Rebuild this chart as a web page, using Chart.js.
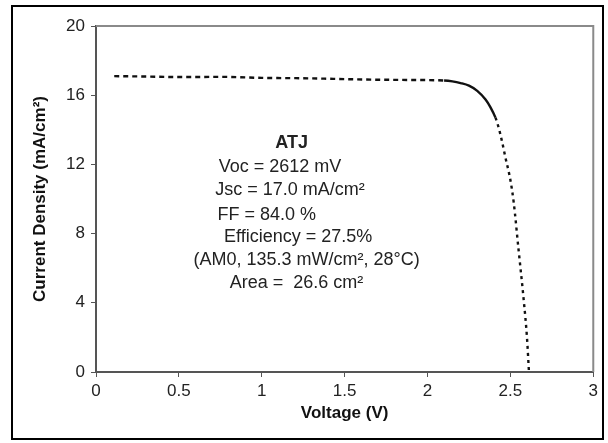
<!DOCTYPE html>
<html>
<head>
<meta charset="utf-8">
<script src="https://cdn.jsdelivr.net/npm/chart.js@4/dist/chart.umd.min.js"></script>
<style>
  html, body { margin: 0; padding: 0; background: #fff; }
  #frame {
    position: absolute; left: 11px; top: 5px;
    width: 589px; height: 431px;
    border: 2px solid #000;
  }
</style>
</head>
<body>
<div id="frame"><canvas id="ivCurve" width="589" height="431"></canvas></div>
<script>
// I-V curve
var voltage = [0.11, 0.3, 0.5, 0.77, 1.0, 1.25, 1.5, 1.66, 1.9, 2.1, 2.15, 2.2, 2.25, 2.3,
               2.35, 2.38, 2.41, 2.43, 2.45, 2.47, 2.5, 2.52, 2.55, 2.58, 2.6, 2.612];
var current = [17.1, 17.08, 17.05, 17.06, 17.0, 16.98, 16.93, 16.9, 16.88, 16.85, 16.8, 16.7, 16.55, 16.25,
               15.75, 15.3, 14.7, 14.1, 13.3, 12.4, 11.1, 9.8, 7.0, 4.2, 2.0, 0];

var xTicks = [0, 0.5, 1, 1.5, 2, 2.5, 3];
var yTicks = [0, 4, 8, 12, 16, 20];

var noteLines = [
    "ATJ",
    "Voc = 2612 mV",
    "Jsc = 17.0 mA/cm²",
    "FF = 84.0 %",
    "Efficiency = 27.5%",
    "(AM0, 135.3 mW/cm², 28°C)",
    "Area =  26.6 cm²"
];

var points = voltage.map(function(v, i){ return {x: v, y: current[i]}; });

var fontName = "'Liberation Sans', Arial, sans-serif";

/**
 * gray frame on top and right, and the text block
 */
var extras = {
    id: 'extras',
    afterDraw: function(chart){
        var c = chart.ctx, a = chart.chartArea;
        var xs = chart.scales.x, ys = chart.scales.y;
        c.save();
        c.strokeStyle = '#8a8a8a';
        c.lineWidth = 2;
        c.beginPath();
        c.moveTo(a.left, a.top);
        c.lineTo(a.right, a.top);
        c.lineTo(a.right, a.bottom);
        c.stroke();

        // anchors in data units (x centre, y centre)
        var anchors = [[1.18, 13.24], [1.11, 11.85], [1.17, 10.52], [1.03, 9.08],
                       [1.22, 7.80], [1.27, 6.47], [1.21, 5.14]];
        c.fillStyle = '#222';
        c.textAlign = 'center';
        c.textBaseline = 'middle';
        noteLines.forEach(function(t, i){
            c.font = (i === 0 ? 'bold ' : '') + '18px ' + fontName;
            c.fillText(t, xs.getPixelForValue(anchors[i][0]), ys.getPixelForValue(anchors[i][1]));
        });
        c.restore();
    }
};

var lineData = {
    datasets: [
        {
            label: "ATJ",
            data: points,
            borderColor: "#111",
            borderWidth: 2.4,
            borderDash: [5, 4],
            pointRadius: 0,
            cubicInterpolationMode: 'monotone',
            segment: {
                borderDash: function(ctx){
                    var x0 = ctx.p0.parsed.x, x1 = ctx.p1.parsed.x;
                    if (x0 >= 2.1 && x1 <= 2.41) return [];
                    return x0 >= 2.41 ? [3, 4] : [5, 4];
                }
            }
        }
    ]
};

var lineOptions = {
    responsive: false,
    animation: false,
    layout: { padding: { top: 19, right: 5, left: 0, bottom: 0 } },
    plugins: {
        legend: { display: false },
        tooltip: { enabled: false }
    },
    scales: {
        x: {
            type: 'linear',
            min: 0, max: 3,
            afterBuildTicks: function(s){ s.ticks = xTicks.map(function(v){ return {value: v}; }); },
            afterFit: function(s){ s.height = 66; },
            border: { display: true, color: '#555', width: 2 },
            grid: { display: true, drawOnChartArea: false, drawTicks: true, tickLength: 5, color: '#555' },
            ticks: {
                color: '#222', padding: 4, maxRotation: 0,
                font: { family: fontName, size: 17 },
                callback: function(v){ return String(v); }
            },
            title: {
                display: true, text: 'Voltage (V)', color: '#111',
                font: { family: fontName, size: 17, weight: 'bold' },
                padding: { top: 0, bottom: 14 }
            }
        },
        y: {
            min: 0, max: 20,
            afterBuildTicks: function(s){ s.ticks = yTicks.map(function(v){ return {value: v}; }); },
            afterFit: function(s){ s.width = 83; },
            border: { display: true, color: '#555', width: 2 },
            grid: { display: true, drawOnChartArea: false, drawTicks: true, tickLength: 5, color: '#555' },
            ticks: { color: '#222', padding: 6, font: { family: fontName, size: 17 } },
            title: {
                display: true, text: 'Current Density (mA/cm²)', color: '#111',
                font: { family: fontName, size: 17, weight: 'bold' },
                padding: { top: 17, bottom: 0 }
            }
        }
    }
};

var ctx = document.getElementById("ivCurve").getContext("2d");
new Chart(ctx, {type: 'line', data: lineData, options: lineOptions, plugins: [extras]});
</script>
</body>
</html>
